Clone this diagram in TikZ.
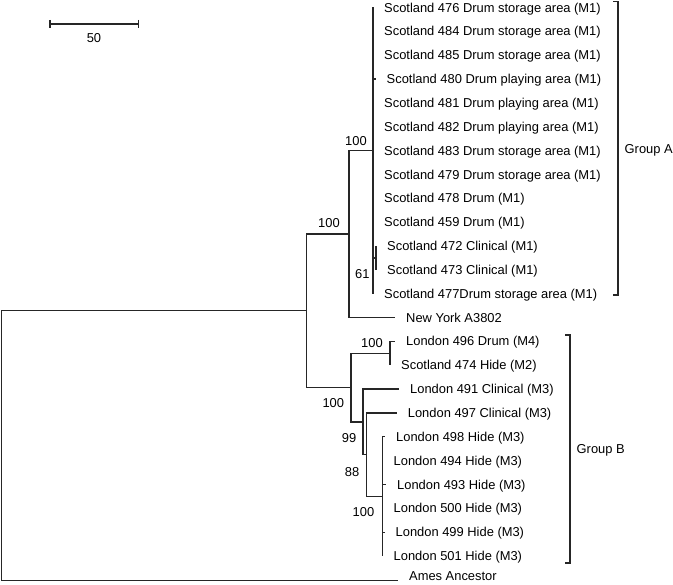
\documentclass[tikz,border=0pt]{standalone}
\usepackage{fontspec}
\setmainfont{Liberation Sans}
\begin{document}
\begin{tikzpicture}[x=1pt,y=-1pt,
		every node/.style={font=\fontsize{12.9}{15}\selectfont},
		branch/.style={line width=1.3pt, black!85},
		taxon/.style={anchor=base west, inner sep=0pt, xshift=11pt, yshift=-4.6pt},
		boot/.style={anchor=base, inner sep=0pt}]
		\useasboundingbox (0,0) rectangle (673,585);

		% scale bar
		\draw[branch] (50,20) -- (50,28) (50,24) -- (138.3,24) (138.3,20) -- (138.3,28);
		\node[boot] (scale) at (94,42.6) {50};

		% tips
		\coordinate (t476) at (373,7.5);
		\coordinate (t484) at (373,31.35);
		\coordinate (t485) at (373,55.2);
		\coordinate (t480) at (375.5,79.05);
		\coordinate (t481) at (373,102.9);
		\coordinate (t482) at (373,126.75);
		\coordinate (t483) at (373,150.6);
		\coordinate (t479) at (373,174.45);
		\coordinate (t478) at (373,198.3);
		\coordinate (t459) at (373,222.15);
		\coordinate (t472) at (376,246);
		\coordinate (t473) at (376,269.85);
		\coordinate (t477) at (373,293.7);
		\coordinate (tNY) at (395,317.55);
		\coordinate (tL496) at (395,341.4);
		\coordinate (tS474) at (390,365.25);
		\coordinate (tL491) at (399,389.1);
		\coordinate (tL497) at (396.7,412.95);
		\coordinate (tL498) at (385,436.8);
		\coordinate (tL494) at (382.5,460.65);
		\coordinate (tL493) at (386,484.5);
		\coordinate (tL500) at (382.5,508.35);
		\coordinate (tL499) at (384.5,532.2);
		\coordinate (tL501) at (382.5,556.05);
		\coordinate (tAmes) at (398,580.5);

		% internal nodes
		\coordinate (cA) at (373,150.6);
		\coordinate (c61) at (376,257.93);
		\coordinate (cNY) at (349,234.08);
		\coordinate (c496) at (390,353.33);
		\coordinate (cHide) at (382.5,496.43);
		\coordinate (c88) at (366.7,454.69);
		\coordinate (c99) at (363,421.9);
		\coordinate (cB) at (351,387.6);
		\coordinate (cIn) at (306.7,310.84);
		\coordinate (root) at (1.5,445);

		% branches
		\foreach \t in {t476,t484,t485,t480,t481,t482,t483,t479,t478,t459,t477,c61}
			\draw[branch] (cA) |- (\t);
		\draw[branch] (c61) |- (t472);
		\draw[branch] (c61) |- (t473);
		\draw[branch] (cNY) |- (cA);
		\draw[branch] (cNY) |- (tNY);
		\draw[branch] (cIn) |- (cNY);
		\draw[branch] (cIn) |- (cB);
		\draw[branch] (cB) |- (c496);
		\draw[branch] (cB) |- (c99);
		\draw[branch] (c496) |- (tL496);
		\draw[branch] (c496) |- (tS474);
		\draw[branch] (c99) |- (tL491);
		\draw[branch] (c99) |- (c88);
		\draw[branch] (c88) |- (tL497);
		\draw[branch] (c88) |- (cHide);
		\foreach \t in {tL498,tL494,tL493,tL500,tL499,tL501}
			\draw[branch] (cHide) |- (\t);
		\draw[branch] (root) |- (cIn);
		\draw[branch] (root) |- (tAmes);

		% taxa
		\node[taxon] (s476) at (t476) {Scotland 476 Drum storage area (M1)};
		\node[taxon] (s484) at (t484) {Scotland 484 Drum storage area (M1)};
		\node[taxon] (s485) at (t485) {Scotland 485 Drum storage area (M1)};
		\node[taxon] (s480) at (t480) {Scotland 480 Drum playing area (M1)};
		\node[taxon] (s481) at (t481) {Scotland 481 Drum playing area (M1)};
		\node[taxon] (s482) at (t482) {Scotland 482 Drum playing area (M1)};
		\node[taxon] (s483) at (t483) {Scotland 483 Drum storage area (M1)};
		\node[taxon] (s479) at (t479) {Scotland 479 Drum storage area (M1)};
		\node[taxon] (s478) at (t478) {Scotland 478 Drum (M1)};
		\node[taxon] (s459) at (t459) {Scotland 459 Drum (M1)};
		\node[taxon] (s472) at (t472) {Scotland 472 Clinical (M1)};
		\node[taxon] (s473) at (t473) {Scotland 473 Clinical (M1)};
		\node[taxon] (s477) at (t477) {Scotland 477Drum storage area (M1)};
		\node[taxon] (sNY) at (tNY) {New York A3802};
		\node[taxon] (sL496) at (tL496) {London 496 Drum (M4)};
		\node[taxon] (sS474) at (tS474) {Scotland 474 Hide (M2)};
		\node[taxon] (sL491) at (tL491) {London 491 Clinical (M3)};
		\node[taxon] (sL497) at (tL497) {London 497 Clinical (M3)};
		\node[taxon] (sL498) at (tL498) {London 498 Hide (M3)};
		\node[taxon] (sL494) at (tL494) {London 494 Hide (M3)};
		\node[taxon] (sL493) at (tL493) {London 493 Hide (M3)};
		\node[taxon] (sL500) at (tL500) {London 500 Hide (M3)};
		\node[taxon] (sL499) at (tL499) {London 499 Hide (M3)};
		\node[taxon] (sL501) at (tL501) {London 501 Hide (M3)};
		\node[taxon, yshift=5pt] (sAmes) at (tAmes) {Ames Ancestor};

		% bootstrap values
		\node[boot] (bA) at (356,145.6) {100};
		\node[boot] (bNY) at (329,227.6) {100};
		\node[boot] (b61) at (362.3,278.6) {61};
		\node[boot] (b496) at (372,347.6) {100};
		\node[boot] (bB) at (333.3,407.6) {100};
		\node[boot] (b99) at (349,442.3) {99};
		\node[boot] (b88) at (352,476.3) {88};
		\node[boot] (bHide) at (363.5,516.3) {100};

		% groups
		\draw[branch] (613,1.5) -- (618,1.5) -- (618,295) -- (613,295);
		\node[anchor=west, inner sep=0pt] (grpA) at (624.5,150.6) {Group A};
		\draw[branch] (565,335) -- (570,335) -- (570,563) -- (565,563);
		\node[anchor=west, inner sep=0pt] (grpB) at (576.5,450) {Group B};
	\end{tikzpicture}
\end{document}
